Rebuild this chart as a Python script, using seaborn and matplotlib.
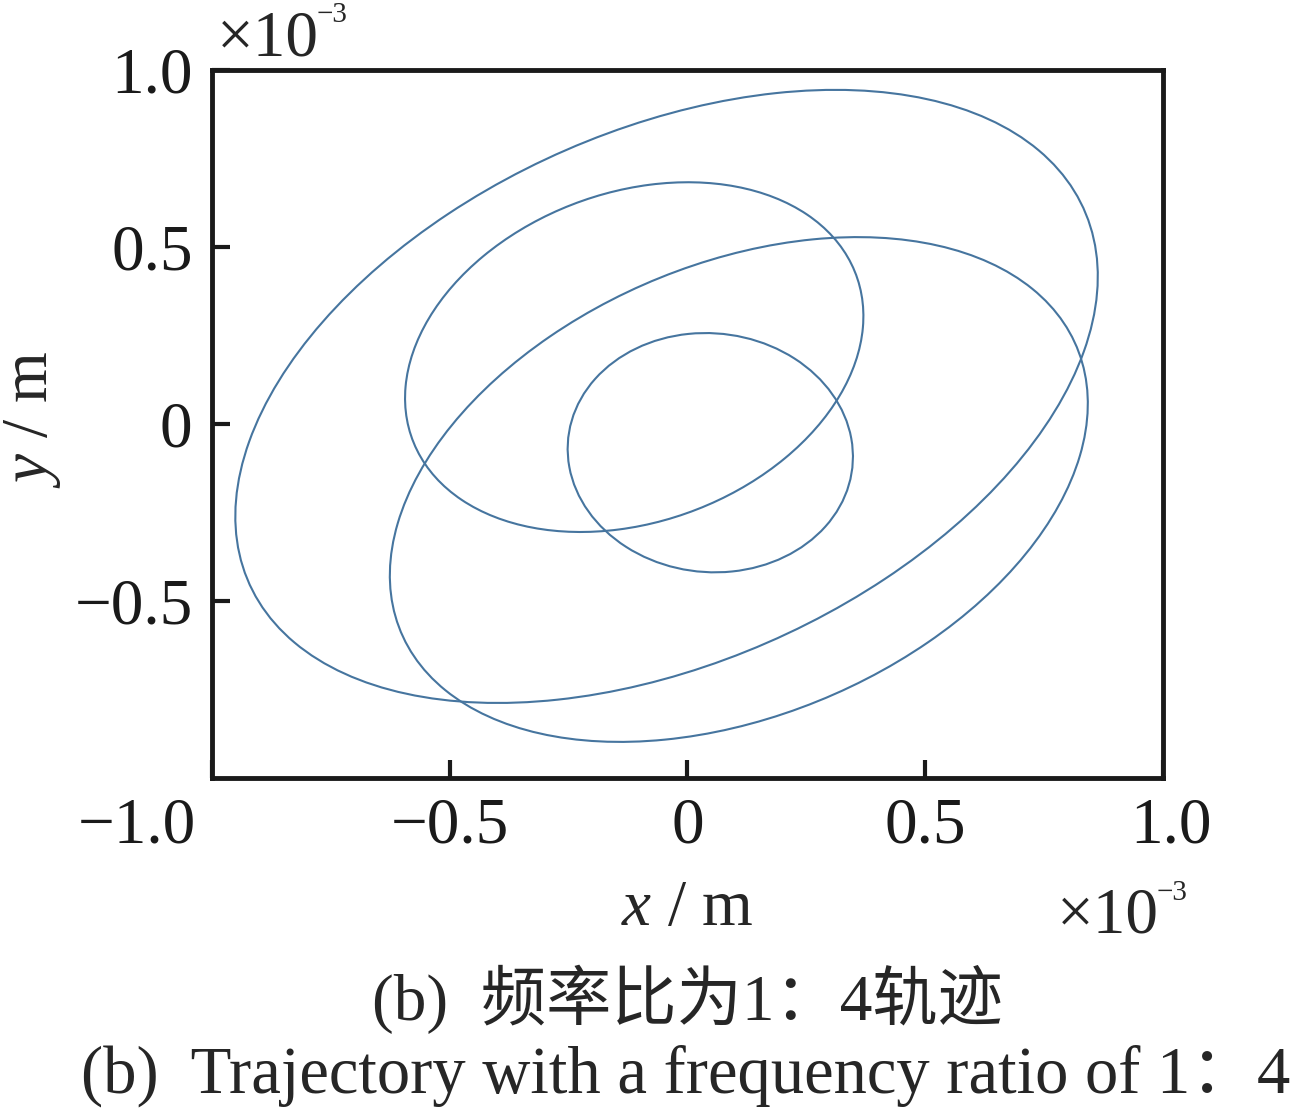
import numpy as np
import matplotlib
matplotlib.use("Agg")
import matplotlib.pyplot as plt
import matplotlib.transforms as mtransforms
from matplotlib.patches import Ellipse
import seaborn as sns

# Orbit loops, units of 1e-3 m
# centre, half extent along x / y, and x offset of the top point from the centre
loop_cx = [-0.044, -0.112, 0.108, 0.048]
loop_cy = [0.078, 0.189, -0.185, -0.081]
loop_half_w = [0.907, 0.482, 0.734, 0.300]
loop_half_h = [0.866, 0.494, 0.713, 0.338]
loop_top_dx = [0.355, 0.113, 0.250, -0.010]

x_ticks = [-1.0, -0.5, 0.0, 0.5, 1.0]
x_tick_labels = ["\u22121.0", "\u22120.5", "0", "0.5", "1.0"]
y_ticks = [-0.5, 0.0, 0.5, 1.0]
y_tick_labels = ["\u22120.5", "0", "0.5", "1.0"]

caption_cn = "(b)  频率比为1：4轨迹"
caption_en = "(b)  Trajectory with a frequency ratio of 1：4"

sns.set_theme(style="white")
plt.rcParams["font.family"] = ["Liberation Serif", "Noto Sans CJK SC", "DejaVu Sans"]
plt.rcParams["mathtext.fontset"] = "custom"
plt.rcParams["mathtext.rm"] = "Liberation Serif"
plt.rcParams["mathtext.it"] = "Liberation Serif:italic"

FS = 47
line_color = "#46759f"

fig = plt.figure(figsize=(12.92, 11.10), dpi=100)
ax = fig.add_axes([0.1641, 0.2991, 0.7360, 0.6378])

for cx, cy, hw, hh, tdx in zip(loop_cx, loop_cy, loop_half_w, loop_half_h, loop_top_dx):
    sxy = tdx * hh
    cov = np.array([[hw ** 2, sxy], [sxy, hh ** 2]])
    vals, vecs = np.linalg.eigh(cov)
    ang = np.degrees(np.arctan2(vecs[1, 1], vecs[0, 1]))
    ax.add_patch(Ellipse((cx, cy), 2 * np.sqrt(vals[1]), 2 * np.sqrt(vals[0]),
                         angle=ang, fill=False, edgecolor=line_color, linewidth=1.5))

ax.set_xlim(-1, 1)
ax.set_ylim(-1, 1)
ax.set_xticks(x_ticks)
ax.set_xticklabels(x_tick_labels)
ax.set_yticks(y_ticks)
ax.set_yticklabels(y_tick_labels)
ax.tick_params(direction="in", length=13, width=3, pad=14, labelsize=FS,
               colors="#1a1a1a", top=False, right=False, bottom=True, left=True)
for sp in ax.spines.values():
    sp.set_linewidth(3.5)
    sp.set_color("#1a1a1a")
    sp.set_visible(True)

# the outer x labels sit off their ticks in the original
xl = ax.get_xticklabels()
xl[0].set_transform(xl[0].get_transform() + mtransforms.ScaledTranslation(-0.75, 0, fig.dpi_scale_trans))
xl[-1].set_transform(xl[-1].get_transform() + mtransforms.ScaledTranslation(0.08, 0, fig.dpi_scale_trans))

ax.set_xlabel(r"$x$ / m", fontsize=FS, va="baseline")
ax.xaxis.set_label_coords(0.5, -0.2076)
ax.set_ylabel(r"$y$ / m", fontsize=FS, va="baseline")
ax.yaxis.set_label_coords(-0.1735, 0.506)

# x10^-3 multipliers, small raised exponent as in the original
for (bx, by), (ex, ey) in [((0.005, 1.0212), (0.1104, 1.0678)),
                           ((0.8885, -0.2189), (0.9937, -0.1723))]:
    ax.text(bx, by, "×10", transform=ax.transAxes, fontsize=FS,
            ha="left", va="baseline")
    ax.text(ex, ey, "\u22123", transform=ax.transAxes, fontsize=21,
            ha="left", va="baseline")

fig.text(0.532, 0.081, caption_cn, fontsize=FS, ha="center", va="baseline")
fig.text(0.531, 0.016, caption_en, fontsize=48, ha="center", va="baseline")

fig.savefig("out.png", dpi=100, facecolor="white")
